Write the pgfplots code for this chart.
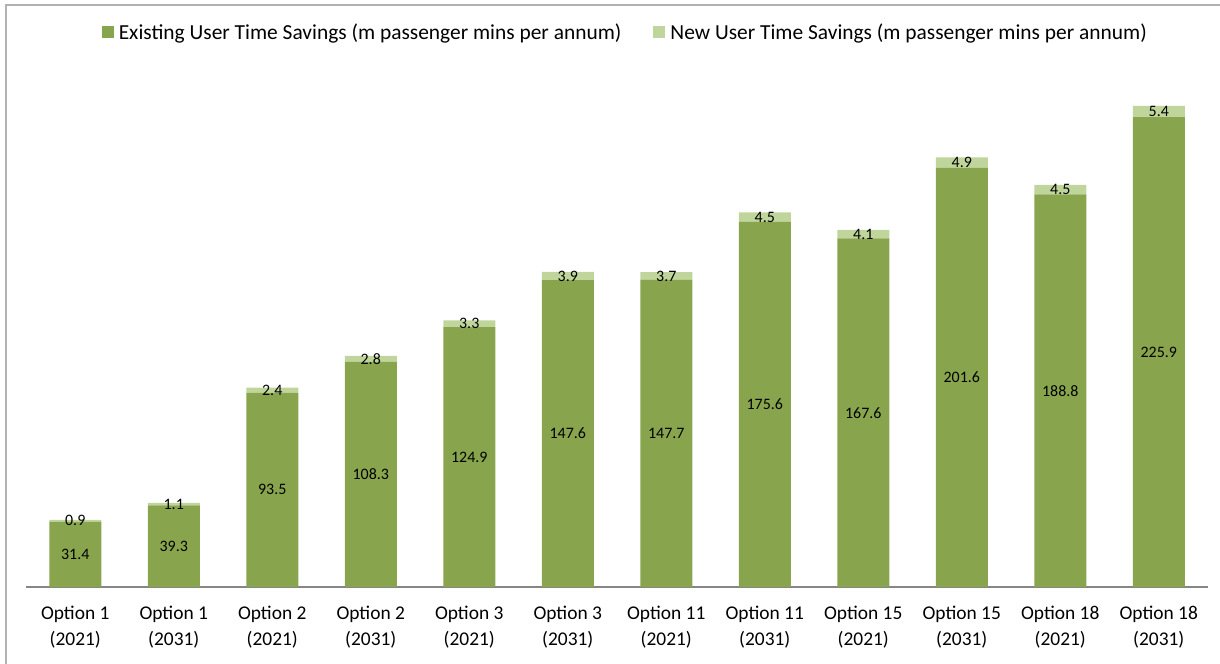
\documentclass[border=0pt]{standalone}
\usepackage{pgfplots}
\usepackage{pgfplotstable}
\pgfplotsset{compat=1.18}
\usepackage{fontspec}
\setmainfont{Carlito}
\definecolor{exist}{HTML}{88A54E}
\definecolor{newc}{HTML}{C0D59B}
\definecolor{axgray}{HTML}{868686}
\pgfplotstableread{
x exist new
0 31.4 0.9
1 39.3 1.1
2 93.5 2.4
3 108.3 2.8
4 124.9 3.3
5 147.6 3.9
6 147.7 3.7
7 175.6 4.5
8 167.6 4.1
9 201.6 4.9
10 188.8 4.5
11 225.9 5.4
}\data
\begin{document}
\begin{tikzpicture}[x=1bp,y=1bp]
\useasboundingbox (-26,-77) rectangle (1194,587);
\draw[gray!60, line width=1.5bp] (-20,-77) -- (-20,582) -- (1194,582);
\begin{axis}[
  width=1182bp, height=500bp, scale only axis,
  xmin=-0.5, xmax=11.5, ymin=0, ymax=240.4,
  ybar stacked, bar width=52bp,
  axis x line=bottom, axis y line=none,
  x axis line style={axgray, line width=1.5bp, -},
  xtick={0,...,11}, ytick=\empty, major tick length=0,
  xticklabels={{Option 1\\(2021)},{Option 1\\(2031)},{Option 2\\(2021)},{Option 2\\(2031)},{Option 3\\(2021)},{Option 3\\(2031)},{Option 11\\(2021)},{Option 11\\(2031)},{Option 15\\(2021)},{Option 15\\(2031)},{Option 18\\(2021)},{Option 18\\(2031)}},
  xticklabel style={align=center, font=\fontsize{19.5}{26}\selectfont, text=black, yshift=-16bp},
  point meta=explicit,
  /pgf/number format/assume math mode=true,
  nodes near coords={\pgfmathprintnumber[fixed,fixed zerofill,precision=1]{\pgfplotspointmeta}},
  every node near coord/.append style={font=\fontsize{16}{19}\selectfont, text=black, anchor=center},
  legend style={at={(0.507,1.11)}, anchor=center, draw=none, fill=none, font=\fontsize{21.5}{25}\selectfont, /tikz/every even column/.append style={column sep=30bp}},
  legend columns=2,
  legend image code/.code={\fill[#1] (0bp,-6bp) rectangle (12bp,6bp); \path (15bp,0bp);},
]
\addplot[fill=exist, draw=none]
  table[x=x, y=exist, meta=exist] {\data};
\addplot[fill=newc, draw=none]
  table[x=x, y=new, meta=new] {\data};
\legend{Existing User Time Savings (m passenger mins per annum),New User Time Savings (m passenger mins per annum)}
\end{axis}
\end{tikzpicture}
\end{document}
